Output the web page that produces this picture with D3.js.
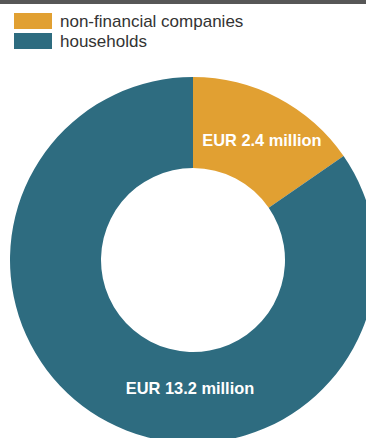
<!DOCTYPE html>
<html>
<head>
<meta charset="utf-8">
<script src="https://cdn.jsdelivr.net/npm/d3@7"></script>
<style>
  html, body { margin: 0; padding: 0; background: #fff; }
  svg { display: block; }
</style>
</head>
<body>
<svg id="chart" width="366" height="438"></svg>
<script>
// Loan volume by borrower group (EUR million)
const categories = ["non-financial companies", "households"];
const values = [2.4, 13.2];
const labels = ["EUR 2.4 million", "EUR 13.2 million"];
const colors = ["#E1A032", "#2E6C80"];

const width = 366, height = 438;
const svg = d3.select("#chart");

// dark rule along the top edge
svg.append("rect").attr("x", 0).attr("y", 0).attr("width", width).attr("height", 4).attr("fill", "#575757");

// legend
const legend = svg.append("g").attr("transform", "translate(14,13)");
categories.forEach((c, i) => {
  const g = legend.append("g").attr("transform", `translate(0,${i * 20})`);
  g.append("rect").attr("width", 38).attr("height", 16).attr("fill", colors[i]);
  g.append("text").attr("x", 46).attr("y", 14.3)
    .attr("font-family", "Liberation Sans, Arial, sans-serif")
    .attr("font-size", 17).attr("fill", "#333")
    .text(c);
});

// donut
const cx = 193, cy = 260, outerR = 183, innerR = 92;
const pie = d3.pie().sort(null).value(d => d)(values);
const arc = d3.arc().innerRadius(innerR).outerRadius(outerR);
const g = svg.append("g").attr("transform", `translate(${cx},${cy})`);

g.selectAll("path").data(pie).join("path")
  .attr("d", arc)
  .attr("fill", (d, i) => colors[i]);

// value labels: first at the slice centroid, the large slice at the bottom of the ring
const labelPos = (d, i) => {
  if (i === 0) {
    const [x, y] = arc.centroid(d);
    return [x + 5, y + 2];
  }
  const r = (innerR + outerR) / 2 - 10;
  return [-3, r + 1];
};
g.selectAll("text.val").data(pie).join("text")
  .attr("class", "val")
  .attr("transform", (d, i) => `translate(${labelPos(d, i)})`)
  .attr("text-anchor", "middle")
  .attr("dy", "0.35em")
  .attr("font-family", "Liberation Sans, Arial, sans-serif")
  .attr("font-weight", "bold")
  .attr("font-size", 16.4)
  .attr("fill", "#fff")
  .text((d, i) => labels[i]);
</script>
</body>
</html>
